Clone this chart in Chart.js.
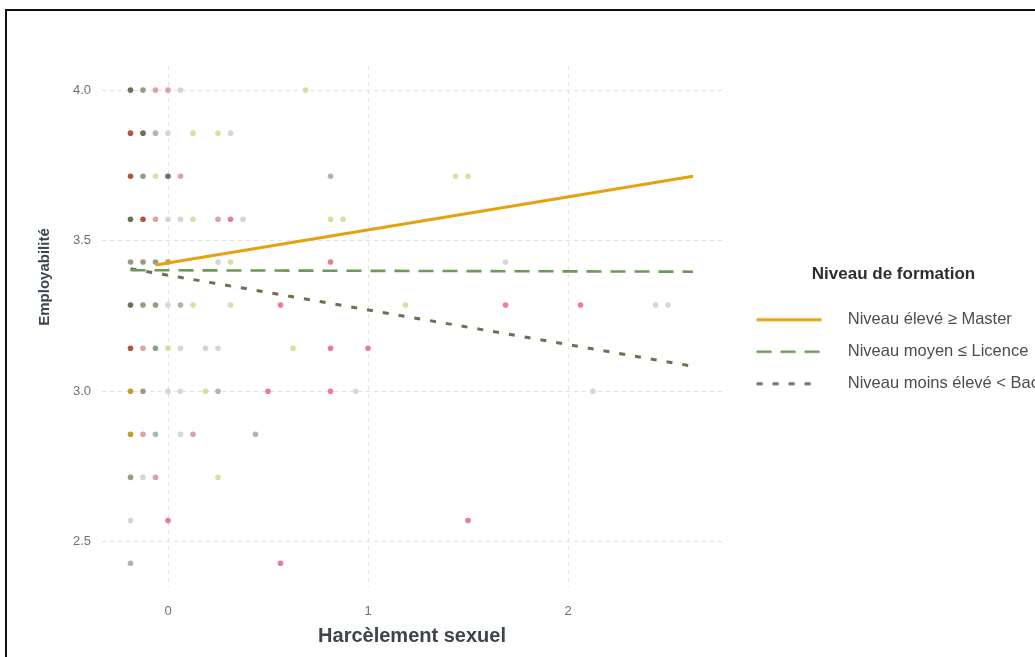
<!DOCTYPE html>
<html>
<head>
<meta charset="utf-8">
<script src="https://cdn.jsdelivr.net/npm/chart.js@4/dist/chart.umd.min.js"></script>
<style>
  html, body { margin: 0; padding: 0; background: #fff; overflow: hidden; width: 1035px; height: 657px; }
  #wrap { position: absolute; left: 0; top: 0; width: 1049px; height: 657px; }
  #frame { position: absolute; left: 5px; top: 9px; width: 1100px; height: 700px; border: 2px solid #111; pointer-events: none; }
</style>
</head>
<body>
<div id="wrap"><canvas id="c" width="1049" height="657"></canvas></div>
<div id="frame"></div>
<script>
// ---- data ----
const xTicks = [0, 1, 2];
const yTicks = [2.5, 3.0, 3.5, 4.0];
const legendTitle = 'Niveau de formation';
const xTitle = 'Harcèlement sexuel';
const yTitle = 'Employabilité';
const seriesNames = ['Niveau élevé ≥ Master', 'Niveau moyen ≤ Licence', 'Niveau moins élevé < Bac'];

// fitted regression lines [x, y]
const masterFit  = [[-0.0625, 3.419], [2.625, 3.714]];
const licenceFit = [[-0.1875, 3.402], [2.625, 3.397]];
const bacFit     = [[-0.1875, 3.407], [2.625, 3.083]];

// observed points [x, y], grouped by visible colour
const ptsDark  = [[-0.1875,4.0],[-0.1875,3.571],[-0.1875,3.286],[-0.125,3.857],[0,3.714]];
const ptsRust  = [[-0.1875,3.857],[-0.1875,3.714],[-0.125,3.571],[-0.1875,3.143]];
const ptsGold  = [[-0.1875,3.0],[-0.1875,2.857],[0,3.429]];
const ptsOlive = [[-0.1875,3.429],[-0.125,3.429],[-0.0625,3.429],[-0.125,4.0],[-0.125,3.714],[-0.125,3.286],[-0.0625,3.286],[-0.0625,3.143],[-0.125,3.0],[-0.1875,2.714]];
const ptsGrey  = [[-0.0625,3.857],[0.0625,3.286],[0.25,3.0],[-0.0625,2.857],[0.4375,2.857],[-0.1875,2.429],[0.8125,3.714]];
const ptsLight = [[0.0625,4.0],[0,3.857],[0.3125,3.857],[0,3.571],[0.0625,3.571],[0.375,3.571],[0.25,3.429],[0,3.286],[0.0625,3.143],[0.1875,3.143],[0.25,3.143],[0,3.0],[0.0625,3.0],[0.9375,3.0],[2.125,3.0],[0.0625,2.857],[-0.125,2.714],[-0.1875,2.571],[1.6875,3.429],[2.4375,3.286],[2.5,3.286]];
const ptsLime  = [[0.6875,4.0],[0.125,3.857],[0.25,3.857],[-0.0625,3.714],[1.4375,3.714],[1.5,3.714],[0.125,3.571],[0.8125,3.571],[0.875,3.571],[0.3125,3.429],[0.125,3.286],[0.3125,3.286],[1.1875,3.286],[0,3.143],[0.625,3.143],[0.1875,3.0],[0.25,2.714]];
const ptsRose  = [[-0.0625,4.0],[0,4.0],[-0.0625,3.571],[0.25,3.571],[0.0625,3.714],[-0.125,3.143],[-0.125,2.857],[0.125,2.857],[-0.0625,2.714]];
const ptsPink  = [[0.3125,3.571],[0.8125,3.429],[0.5625,3.286],[1.6875,3.286],[2.0625,3.286],[0.8125,3.143],[1.0,3.143],[0.5,3.0],[0.8125,3.0],[0,2.571],[1.5,2.571],[0.5625,2.429]];

// ---- styles ----
const FONT = '"Liberation Sans", Arial, sans-serif';
const lineStyles = [
  { color: '#E3A30E', width: 3,   dash: [],      sample: 65 },
  { color: '#6b9b57', width: 2.6, dash: [15, 9], sample: 63 },
  { color: '#7a6953', width: 3,   dash: [6, 10], sample: 57 }
];
const pointGroups = [
  { pts: ptsLight, color: '#d6d6d2' },
  { pts: ptsLime,  color: '#d5e1a2' },
  { pts: ptsGrey,  color: '#b4b4ae' },
  { pts: ptsRose,  color: '#d9a3a8' },
  { pts: ptsPink,  color: '#ea7c93' },
  { pts: ptsOlive, color: '#999c84' },
  { pts: ptsGold,  color: '#c49b2e' },
  { pts: ptsRust,  color: '#b0553c' },
  { pts: ptsDark,  color: '#6f7058' }
];

const toXY = arr => arr.map(p => ({ x: p[0], y: p[1] }));

function legendSample(st) {
  const c = document.createElement('canvas');
  c.width = 86; c.height = 10;
  const g = c.getContext('2d');
  g.strokeStyle = st.color; g.lineWidth = st.width; g.setLineDash(st.dash);
  g.beginPath(); g.moveTo(3, 5); g.lineTo(3 + st.sample, 5); g.stroke();
  return c;
}
const legendImgs = lineStyles.map(legendSample);

const fits = [masterFit, licenceFit, bacFit];
const datasets = [];
fits.forEach((f, i) => {
  datasets.push({
    type: 'line', label: seriesNames[i], data: toXY(f),
    borderColor: lineStyles[i].color, borderWidth: lineStyles[i].width,
    borderDash: lineStyles[i].dash, pointRadius: 0, fill: false, tension: 0,
    borderCapStyle: 'butt'
  });
});
pointGroups.forEach((g, i) => {
  datasets.push({
    type: 'scatter', label: 'pts' + i, data: toXY(g.pts),
    backgroundColor: g.color, borderWidth: 0, pointRadius: 2.8, pointHoverRadius: 2.8
  });
});

// y-axis title, placed beside the upper-middle of the panel as in the original
const yTitlePlugin = {
  id: 'yTitle',
  afterDraw(chart) {
    const c = chart.ctx;
    c.save();
    c.translate(45, 277);
    c.rotate(-Math.PI / 2);
    c.font = 'bold 15px ' + FONT;
    c.fillStyle = '#3d4450';
    c.textAlign = 'center';
    c.textBaseline = 'middle';
    c.fillText(yTitle, 0, 0);
    c.restore();
  }
};

new Chart(document.getElementById('c').getContext('2d'), {
  type: 'scatter',
  data: { datasets },
  plugins: [yTitlePlugin],
  options: {
    responsive: false,
    animation: false,
    layout: { padding: { top: 66, left: 0, right: 0, bottom: 0 } },
    plugins: {
      tooltip: { enabled: false },
      legend: {
        position: 'right',
        align: 'center',
        maxWidth: 420,
        title: {
          display: true, text: legendTitle, color: '#2e2e2e',
          font: { family: FONT, size: 17, weight: 'bold' },
          padding: { top: -50, bottom: 10 }
        },
        labels: {
          usePointStyle: true, pointStyleWidth: 86, padding: 15.5,
          color: '#4d4d4d', font: { family: FONT, size: 16.5 },
          generateLabels: () => seriesNames.map((n, i) => ({
            text: n, pointStyle: legendImgs[i],
            fillStyle: 'rgba(0,0,0,0)', strokeStyle: lineStyles[i].color,
            lineWidth: 0, hidden: false, datasetIndex: i, fontColor: '#4d4d4d'
          }))
        }
      }
    },
    scales: {
      x: {
        type: 'linear', position: 'bottom', min: -0.33, max: 2.77,
        afterBuildTicks: s => { s.ticks = xTicks.map(v => ({ value: v })); },
        afterFit: s => { s.height = 70; },
        grid: { color: '#e2e2e2', lineWidth: 1, drawTicks: false },
        border: { display: false, dash: [4, 4] },
        ticks: { padding: 17, color: '#707070', font: { family: FONT, size: 13 }, callback: v => String(v) },
        title: { display: true, text: xTitle, color: '#3d4450', font: { family: FONT, size: 20, weight: 'bold' }, padding: { top: 0, bottom: 9 } }
      },
      y: {
        type: 'linear', position: 'left', min: 2.35, max: 4.08,
        afterBuildTicks: s => { s.ticks = yTicks.map(v => ({ value: v })); },
        afterFit: s => { s.width = 102; },
        grid: { color: '#e2e2e2', lineWidth: 1, drawTicks: false },
        border: { display: false, dash: [4, 4] },
        ticks: { padding: 11, color: '#707070', font: { family: FONT, size: 13 }, callback: v => Number(v).toFixed(1) },
        title: { display: false }
      },
      y2: {
        type: 'linear', position: 'right', display: true,
        afterFit: s => { s.width = 16; },
        grid: { display: false }, ticks: { display: false }, border: { display: false }
      }
    }
  }
});
</script>
</body>
</html>
